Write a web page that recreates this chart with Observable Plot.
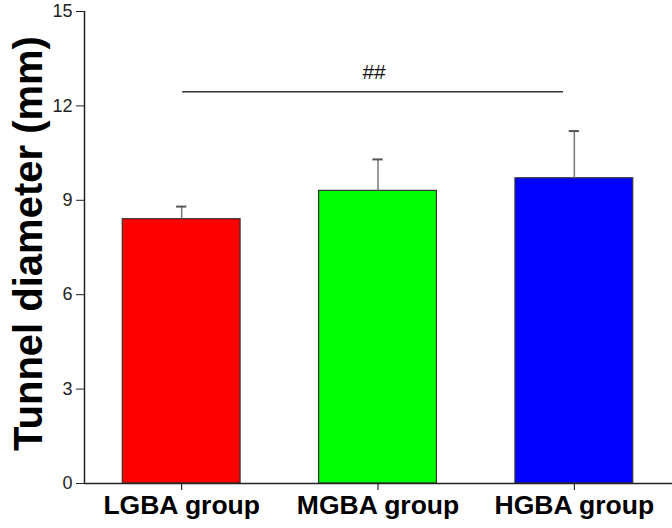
<!DOCTYPE html>
<html>
<head>
<meta charset="utf-8">
<script src="https://cdn.jsdelivr.net/npm/d3@7"></script>
<script src="https://cdn.jsdelivr.net/npm/@observablehq/plot@0.6"></script>
<style>
  html, body { margin: 0; padding: 0; background: #fff; }
  #chart svg { font-family: "Liberation Sans", Arial, sans-serif; }
</style>
</head>
<body>
<div id="chart"></div>
<script>
const groups = ["LGBA group", "MGBA group", "HGBA group"];
const means = [8.4, 9.3, 9.7];
const sds = [0.4, 1.0, 1.5];
const colors = ["#ff0000", "#00ff00", "#0000ff"];
const yTicks = [0, 3, 6, 9, 12, 15];
const yTitle = "Tunnel diameter (mm)";
const sigLabel = "##";
const sigFrom = 0;   // group index
const sigTo = 2;     // group index
const sigLevel = 12.45;

const data = groups.map((g, i) => ({i, group: g, mean: means[i], top: means[i] + sds[i], color: colors[i]}));
const half = 0.3;
const cap = 0.026;

const chart = Plot.plot({
  width: 672,
  height: 528,
  marginLeft: 84,
  marginRight: 0,
  marginTop: 11,
  marginBottom: 45,
  style: {background: "#fff", fontFamily: "Liberation Sans, Arial, sans-serif"},
  x: {domain: [-0.495, 2.5], axis: null},
  y: {domain: [0, 15], axis: null},
  marks: [
    Plot.rectY(data, {x1: d => d.i - half, x2: d => d.i + half, y1: 0, y2: "mean", fill: "color", stroke: "#333", strokeWidth: 1.2}),
    Plot.ruleX(data, {x: "i", y1: "mean", y2: "top", stroke: "#777", strokeWidth: 1.5}),
    Plot.ruleY(data, {y: "top", x1: d => d.i - cap, x2: d => d.i + cap, stroke: "#555", strokeWidth: 2}),
    Plot.ruleY([sigLevel], {x1: sigFrom + 0.005, x2: sigTo - 0.055, stroke: "#333", strokeWidth: 1.5}),
    Plot.text([sigLabel], {x: (sigFrom + sigTo) / 2 - 0.02, y: sigLevel + 0.62, text: d => d, fontSize: 21, fill: "#111"}),
    Plot.axisY({ticks: yTicks, tickSize: 8, tickPadding: 4, fontSize: 18, color: "#222", label: null}),
    Plot.axisX({ticks: data.map(d => d.i), tickFormat: i => groups[i], tickSize: 7, tickPadding: 5, fontSize: 26.5, fontWeight: "bold", color: "#000", label: null}),
    Plot.ruleX([-0.495], {y1: 0, y2: 15, stroke: "#222", strokeWidth: 1.5}),
    Plot.ruleY([0], {stroke: "#222", strokeWidth: 1.5}),
    Plot.text([yTitle], {frameAnchor: "left", textAnchor: "middle", rotate: -90, dx: -55, dy: -4, text: d => d, fontSize: 40, fontWeight: "bold", fill: "#000"})
  ]
});
document.getElementById("chart").appendChild(chart);
</script>
</body>
</html>
